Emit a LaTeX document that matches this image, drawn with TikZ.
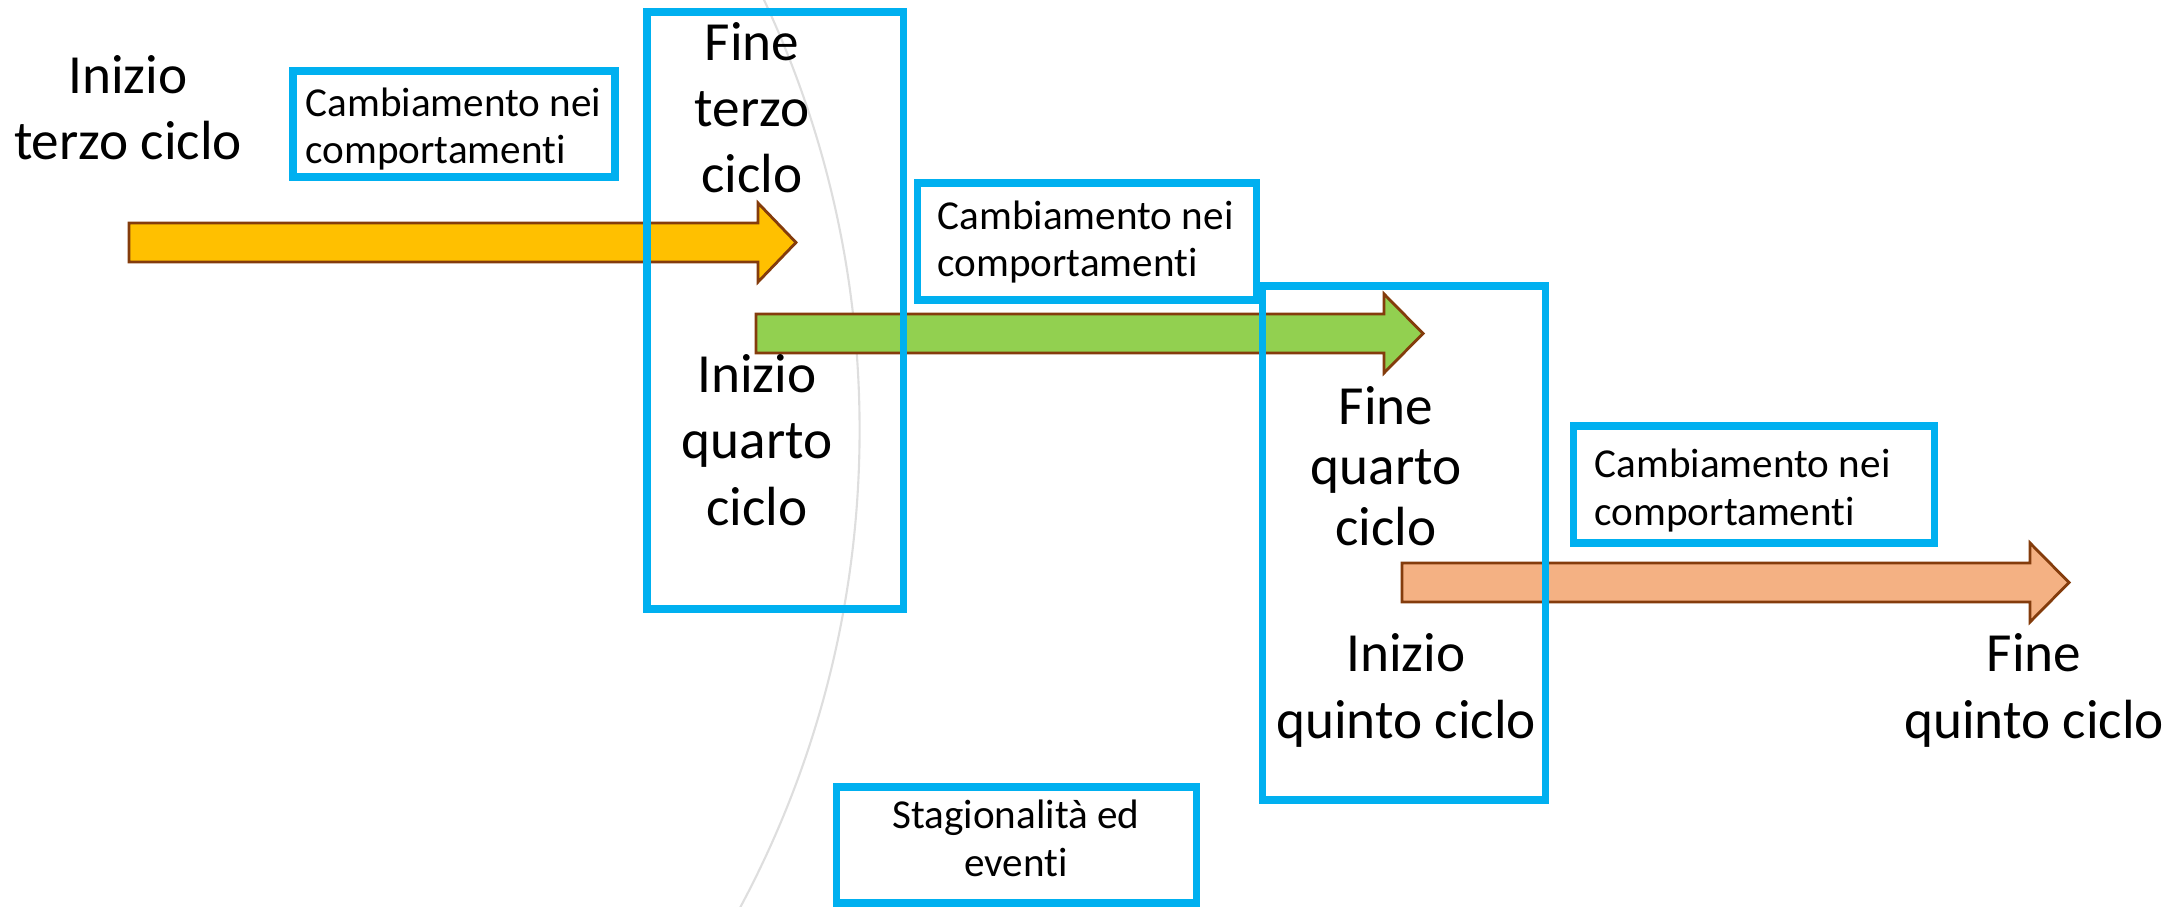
\documentclass[tikz,border=0pt]{standalone}
\usepackage{fontspec}
\setmainfont[Ligatures={NoCommon,NoContextual},Contextuals=NoAlternate]{Carlito}
\usepackage{tikz}
\definecolor{boxblue}{RGB}{0,176,240}
\definecolor{arrowrim}{RGB}{132,60,12}
\definecolor{ciclogiallo}{RGB}{255,192,0}
\definecolor{cicloverde}{RGB}{146,208,80}
\definecolor{ciclosalmone}{RGB}{244,177,131}
\definecolor{arcgray}{RGB}{222,222,222}

\begin{document}
\begin{tikzpicture}[x=0.01cm,y=-0.01cm,
  bigtext/.style={font=\fontsize{15.7pt}{18.8pt}\selectfont,align=center,inner sep=0pt,anchor=base},
  smalltext/.style={font=\fontsize{11.7pt}{13.4pt}\selectfont,align=left,inner sep=0pt,anchor=base west},
  cyanbox/.style={draw=boxblue,line width=2pt},
  fase/.style={draw=arrowrim,line width=0.8pt,line join=miter}]
  \useasboundingbox (0,0) rectangle (2183,907);

  % faint arc in the background
  \begin{scope}
    \clip (0,0) rectangle (2183,907);
    \draw[arcgray,line width=0.6pt] (-153,430) circle[radius=10.12cm];
  \end{scope}

  % the three cycles
  \draw[fase,fill=ciclogiallo] (129,223) --++ (629,0) --++ (0,-20) --++ (38,39.5) --++ (-38,39.5) --++ (0,-20) --++ (-629,0) -- cycle;
  \draw[fase,fill=cicloverde] (756,314) --++ (628,0) --++ (0,-20) --++ (39,39.5) --++ (-39,39.5) --++ (0,-20) --++ (-628,0) -- cycle;
  \draw[fase,fill=ciclosalmone] (1402,563) --++ (628,0) --++ (0,-20) --++ (39,39.5) --++ (-39,39.5) --++ (0,-20) --++ (-628,0) -- cycle;

  % frames
  \draw[cyanbox] (293,71) rectangle (615,177);
  \draw[cyanbox] (647,12) rectangle (903,609);
  \draw[cyanbox] (917,183) rectangle (1256,300);
  \draw[cyanbox] (1262,286) rectangle (1545,800);
  \draw[cyanbox] (1573,426) rectangle (1934,543);
  \draw[cyanbox] (836,787) rectangle (1196,903);

  % labels
  \node[bigtext] (inizioterzo) at (128,160) {Inizio\\terzo ciclo};
  \node[bigtext] (fineterzo) at (752,193) {Fine\\terzo\\ciclo};
  \node[bigtext] (inizioquarto) at (757,525) {Inizio\\quarto\\ciclo};
  \node[bigtext,font=\fontsize{15.7pt}{17.1pt}\selectfont] (finequarto) at (1386,545) {Fine\\quarto\\ciclo};
  \node[bigtext] (inizioquinto) at (1406,738) {Inizio\\quinto ciclo};
  \node[bigtext] (finequinto) at (2034,738) {Fine\\quinto ciclo};

  \node[smalltext] (cambio1) at (305,164) {Cambiamento nei\\comportamenti};
  \node[smalltext] (cambio2) at (937,277) {Cambiamento nei\\comportamenti};
  \node[smalltext] (cambio3) at (1594,525) {Cambiamento nei\\comportamenti};
  \node[smalltext,align=center,anchor=base] (stagioni) at (1016,876) {Stagionalità ed\\eventi};
\end{tikzpicture}
\end{document}
